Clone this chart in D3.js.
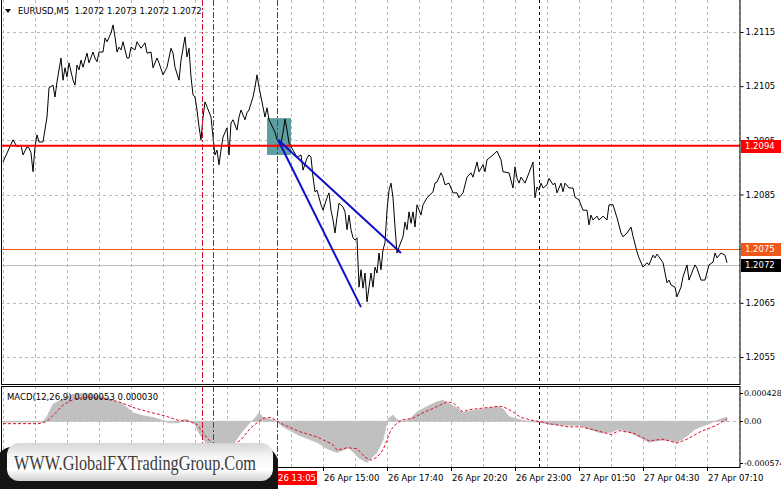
<!DOCTYPE html>
<html><head><meta charset="utf-8">
<script src="https://cdn.jsdelivr.net/npm/d3@7"></script>
<style>body{margin:0;background:#fff;overflow:hidden}svg{display:block;font-family:"DejaVu Sans",Verdana,sans-serif}</style>
</head><body><svg id="c" width="781" height="489"></svg>
<script>
// ---- DATA (bar index = 5-minute bar number) ----
const priceIdx = [0,5,7,9,10,12,13,14,15,16,17,18,20,22,23,25,26,27,29,30,31,32,33,35,36,37,38,39,40,42,43,45,46,47,48,50,51,52,54,55,56,57,58,59,60,62,63,64,66,67,69,71,72,74,75,77,78,80,82,84,85,86,88,89,91,92,93,94,95,96,97,98,99,100,101,102,104,105,106,107,108,109,110,112,113,114,115,117,118,119,121,122,123,125,126,127,128,129,131,132,133,136,137,139,140,141,142,143,145,147,149,150,152,153,154,155,156,157,159,160,162,163,164,165,166,167,168,170,171,172,173,174,175,176,177,178,179,180,181,182,183,184,185,186,187,188,189,190,191,192,193,194,195,196,197,198,200,201,202,203,204,205,206,207,209,210,212,215,216,217,219,220,221,223,225,227,228,230,232,234,235,237,238,240,241,242,245,247,249,250,253,255,256,257,258,259,261,263,265,266,267,268,269,270,272,273,275,276,277,279,280,281,283,285,286,288,290,292,293,294,295,297,298,300,302,303,305,307,309,310,312,314,315,317,318,320,322,323,325,326,327,328,330,332,333,334,336,337,339,340,342,343,345,346,347,349,351,353,355,356,357,359,361,362];
const priceVal = [1.20910,1.20951,1.20938,1.20941,1.20923,1.20938,1.20936,1.20927,1.20892,1.20938,1.20960,1.20947,1.20947,1.20993,1.21047,1.21052,1.21030,1.21058,1.21102,1.21061,1.21084,1.21067,1.21093,1.21061,1.21052,1.21089,1.21080,1.21098,1.21085,1.21111,1.21093,1.21113,1.21102,1.21095,1.21113,1.21113,1.21139,1.21132,1.21148,1.21163,1.21141,1.21113,1.21122,1.21117,1.21132,1.21102,1.21102,1.21122,1.21117,1.21132,1.21120,1.21130,1.21111,1.21113,1.21084,1.21102,1.21093,1.21071,1.21085,1.21120,1.21111,1.21085,1.21061,1.21098,1.21141,1.21104,1.21120,1.21067,1.21034,1.21030,1.21006,1.20975,1.20951,1.20993,1.21021,1.21012,1.20993,1.20956,1.20923,1.20932,1.20905,1.20932,1.20956,1.20973,1.20923,1.20982,1.20988,1.20969,1.20993,1.21006,1.20988,1.21001,1.21006,1.21030,1.21048,1.21071,1.21048,1.21030,1.20993,1.21010,1.20988,1.20965,1.20951,1.20945,1.20964,1.20989,1.20969,1.20945,1.20932,1.20919,1.20923,1.20895,1.20917,1.20923,1.20919,1.20882,1.20855,1.20858,1.20831,1.20821,1.20844,1.20853,1.20821,1.20803,1.20779,1.20808,1.20834,1.20827,1.20818,1.20785,1.20812,1.20785,1.20770,1.20766,1.20770,1.20679,1.20711,1.20677,1.20705,1.20652,1.20679,1.20705,1.20679,1.20716,1.20705,1.20742,1.20711,1.20748,1.20761,1.20821,1.20858,1.20871,1.20844,1.20790,1.20742,1.20753,1.20772,1.20799,1.20785,1.20818,1.20797,1.20818,1.20790,1.20831,1.20812,1.20831,1.20844,1.20855,1.20871,1.20873,1.20890,1.20882,1.20868,1.20871,1.20853,1.20853,1.20844,1.20853,1.20882,1.20890,1.20882,1.20910,1.20892,1.20905,1.20892,1.20914,1.20923,1.20930,1.20914,1.20892,1.20890,1.20862,1.20901,1.20880,1.20871,1.20882,1.20871,1.20890,1.20910,1.20844,1.20864,1.20858,1.20871,1.20862,1.20868,1.20880,1.20868,1.20871,1.20853,1.20871,1.20855,1.20871,1.20862,1.20862,1.20845,1.20840,1.20821,1.20821,1.20794,1.20812,1.20803,1.20810,1.20803,1.20810,1.20803,1.20831,1.20831,1.20807,1.20779,1.20772,1.20779,1.20790,1.20773,1.20744,1.20733,1.20716,1.20724,1.20720,1.20738,1.20733,1.20740,1.20735,1.20724,1.20687,1.20692,1.20683,1.20679,1.20661,1.20679,1.20698,1.20720,1.20692,1.20711,1.20720,1.20714,1.20692,1.20692,1.20720,1.20725,1.20742,1.20733,1.20742,1.20738,1.20724];

const histIdx = [0,20,22,25,30,34,38,46,53,60,65,70,75,80,83,88,91,93,96,98,102,105,110,115,119,123,126,128,130,133,136,138,140,148,157,162,167,173,178,182,187,190,192,193,195,197,200,203,207,212,217,220,223,227,230,233,238,243,247,250,253,257,262,267,270,273,281,289,292,299,304,308,313,318,323,327,332,337,342,346,351,356,360,362];
const histVal = [-0.00001,-0.00001,0.00006,0.00022,0.00029,0.00034,0.00036,0.00034,0.00029,0.00022,0.00011,0.00007,0.00005,0.00001,-0.00002,-0.00002,0.00003,0.00001,-0.00004,-0.00015,-0.00030,-0.00036,-0.00040,-0.00030,-0.00015,-0.00003,0.00004,0.00011,0.00005,0.00003,0.00001,-0.00003,-0.00007,-0.00018,-0.00027,-0.00035,-0.00040,-0.00034,-0.00047,-0.00053,-0.00040,-0.00024,-0.00001,0.00004,0.00008,0.00002,0.00000,0.00002,0.00012,0.00019,0.00025,0.00027,0.00023,0.00017,0.00011,0.00013,0.00015,0.00017,0.00019,0.00016,0.00006,0.00003,0.00000,-0.00001,-0.00002,-0.00004,-0.00005,-0.00005,-0.00009,-0.00015,-0.00014,-0.00010,-0.00014,-0.00020,-0.00027,-0.00025,-0.00024,-0.00027,-0.00019,-0.00010,-0.00005,0.00000,0.00004,0.000053];

const sigIdx = [0,18,22,26,30,36,43,51,58,66,73,81,88,93,97,101,105,111,119,124,130,134,140,148,157,165,167,172,177,181,184,187,190,192,194,197,200,205,210,217,222,225,230,233,240,247,250,255,259,265,270,273,282,289,297,304,308,315,323,330,337,342,349,356,362];
const sigVal = [-0.00003,-0.00003,0.00000,0.00010,0.00021,0.00029,0.00031,0.00029,0.00025,0.00017,0.00012,0.00007,0.00001,0.00000,-0.00004,-0.00018,-0.00030,-0.00036,-0.00024,-0.00008,0.00004,0.00005,-0.00004,-0.00013,-0.00020,-0.00030,-0.00037,-0.00034,-0.00035,-0.00046,-0.00050,-0.00046,-0.00037,-0.00024,-0.00011,-0.00002,0.00002,0.00004,0.00011,0.00019,0.00025,0.00024,0.00012,0.00015,0.00017,0.00019,0.00019,0.00012,0.00005,0.00001,-0.00001,-0.00003,-0.00007,-0.00007,-0.00012,-0.00017,-0.00012,-0.00015,-0.00025,-0.00023,-0.00028,-0.00023,-0.00013,-0.00006,0.00003];

const priceTicks = [1.2115,1.2105,1.2095,1.2085,1.2075,1.2065,1.2055];
const timeTickIdx = [160,192,224,256,288,320,352];
const timeTickLabels = ["26 Apr 15:00","26 Apr 17:40","26 Apr 20:20","26 Apr 23:00","27 Apr 01:50","27 Apr 04:30","27 Apr 07:10"];
const markerIdx = 137, markerLabel = "26 13:05";
const eventLineIdx = [99.5,105,137];
const daySepIdx = [268];
const levelRed = 1.2094, levelOrange = 1.2075, levelBid = 1.2072;
const trendStart = [137.5,1.20951];
const trendEnds = [[179,1.20642],[199,1.20742]];
const boxIdx = [132,144], boxPrice = [1.20991,1.20923];
const macdTop = 0.000428, macdBottom = -0.000574;
const macdTickLabels = ["0.000428","0.00","-0.000574"];
const title = "EURUSD,M5  1.2072 1.2073 1.2072 1.2072";
const macdTitle = "MACD(12,26,9) 0.000053 0.000030";
const watermark = "WWW.GlobalFXTradingGroup.Com";

// ---- SCALES ----
const svg = d3.select("#c");
const R = 740;
const x = d3.scaleLinear().domain([0,368.5]).range([3,R]);
const y = d3.scaleLinear().domain([1.2055,1.2115]).range([357,32]);
const ym = d3.scaleLinear().domain([macdBottom,macdTop]).range([466,388]);
const MAIN=[0,384], SUB=[386,467];

const defs = svg.append("defs");
defs.append("clipPath").attr("id","cm").append("rect").attr("x",1).attr("y",MAIN[0]).attr("width",R-1).attr("height",MAIN[1]-MAIN[0]);
defs.append("clipPath").attr("id","cs").append("rect").attr("x",1).attr("y",SUB[0]).attr("width",R-1).attr("height",SUB[1]-SUB[0]);
const gr = defs.append("linearGradient").attr("id","wm").attr("x1",0).attr("y1",0).attr("x2",0).attr("y2",1);
[[0,"#d6d6d6"],[0.35,"#f5f5f5"],[0.7,"#ffffff"],[1,"#cfcfcf"]].forEach(s=>gr.append("stop").attr("offset",s[0]).attr("stop-color",s[1]));

const gM = svg.append("g").attr("clip-path","url(#cm)");
const gS = svg.append("g").attr("clip-path","url(#cs)");
const gridIdx = d3.range(0,369,16);
const gridCol = "#b8b8b8";

// grid main
gM.selectAll(".vg").data(gridIdx).join("line").attr("x1",d=>Math.round(x(d))+0.5).attr("x2",d=>Math.round(x(d))+0.5)
  .attr("y1",MAIN[0]).attr("y2",MAIN[1]).attr("stroke",gridCol).attr("stroke-dasharray","3,3");
gM.selectAll(".hg").data(priceTicks).join("line").attr("x1",1).attr("x2",R).attr("y1",d=>Math.round(y(d))+0.5).attr("y2",d=>Math.round(y(d))+0.5)
  .attr("stroke",gridCol).attr("stroke-dasharray","3,3");
// grid sub
gS.selectAll(".vg").data(gridIdx).join("line").attr("x1",d=>Math.round(x(d))+0.5).attr("x2",d=>Math.round(x(d))+0.5)
  .attr("y1",SUB[0]).attr("y2",SUB[1]).attr("stroke",gridCol).attr("stroke-dasharray","3,3");

// teal box
gM.append("rect").attr("x",x(boxIdx[0])).attr("width",x(boxIdx[1])-x(boxIdx[0]))
  .attr("y",y(boxPrice[0])).attr("height",y(boxPrice[1])-y(boxPrice[0])).attr("fill","#5f9ea0");

// level lines
gM.append("line").attr("x1",1).attr("x2",R).attr("y1",Math.round(y(levelBid))+0.5).attr("y2",Math.round(y(levelBid))+0.5).attr("stroke","#c0c0c0");
gM.append("line").attr("x1",1).attr("x2",R).attr("y1",Math.round(y(levelOrange))+0.5).attr("y2",Math.round(y(levelOrange))+0.5).attr("stroke","#f0581a");

// price line
const pts = priceIdx.map((d,i)=>[d,priceVal[i]]);
gM.append("path").datum(pts).attr("fill","none").attr("stroke","#000").attr("stroke-width",1)
  .attr("d",d3.line().x(d=>x(d[0])).y(d=>y(d[1])));

gM.append("line").attr("x1",1).attr("x2",R).attr("y1",y(levelRed)).attr("y2",y(levelRed)).attr("stroke","#ff0000").attr("stroke-width",2);

// trend lines
trendEnds.forEach(e=>{
  gM.append("line").attr("x1",x(trendStart[0])).attr("y1",y(trendStart[1])).attr("x2",x(e[0])).attr("y2",y(e[1]))
    .attr("stroke","#1010c8").attr("stroke-width",2);
});

// MACD zero line, histogram, signal
gS.append("line").attr("x1",1).attr("x2",R).attr("y1",Math.round(ym(0))+0.5).attr("y2",Math.round(ym(0))+0.5).attr("stroke",gridCol).attr("stroke-dasharray","3,3");
const hp = histIdx.map((d,i)=>[d,histVal[i]]);
gS.append("path").datum(hp).attr("fill","#c0c0c0").attr("stroke","#c0c0c0").attr("stroke-width",0.8)
  .attr("d",d3.area().x(d=>x(d[0])).y0(ym(0)).y1(d=>ym(d[1])));
const sp = sigIdx.map((d,i)=>[d,sigVal[i]]);
gS.append("path").datum(sp).attr("fill","none").attr("stroke","#e0102a").attr("stroke-width",1).attr("stroke-dasharray","3,2")
  .attr("d",d3.line().x(d=>x(d[0])).y(d=>ym(d[1])));

// vertical event lines
[gM,gS].forEach((g,k)=>{
  const rng = k===0?MAIN:SUB;
  g.selectAll(".ev").data(eventLineIdx).join("line").attr("x1",d=>Math.round(x(d))+0.5).attr("x2",d=>Math.round(x(d))+0.5)
    .attr("y1",rng[0]).attr("y2",rng[1]).attr("stroke","#d0102a").attr("stroke-dasharray","6,2,2,2");
  g.selectAll(".ds").data(daySepIdx).join("line").attr("x1",d=>Math.round(x(d))+0.5).attr("x2",d=>Math.round(x(d))+0.5)
    .attr("y1",rng[0]).attr("y2",rng[1]).attr("stroke","#000").attr("stroke-dasharray","3,3");
});

// frames
svg.append("rect").attr("x",1.5).attr("y",-1).attr("width",R-1.5).attr("height",MAIN[1]+1.5).attr("fill","none").attr("stroke","#000");
svg.append("rect").attr("x",1.5).attr("y",SUB[0]+0.5).attr("width",R-1.5).attr("height",SUB[1]-SUB[0]).attr("fill","none").attr("stroke","#000");

// right axis main
const fs = 8.5;
const ax = svg.append("g").attr("transform",`translate(${R+0.5},0)`)
  .call(d3.axisRight(y).tickValues(priceTicks).tickSize(3).tickPadding(2).tickFormat(d3.format(".4f")));
ax.select(".domain").remove();
ax.selectAll("text").attr("font-size",fs).attr("font-family","DejaVu Sans").attr("fill","#000");
ax.selectAll("line").attr("stroke","#000");

// level labels
function tag(v,bg){
  const yy = Math.round(y(v));
  svg.append("rect").attr("x",R+1).attr("y",yy-6).attr("width",41).attr("height",13).attr("fill",bg);
  svg.append("text").attr("x",R+5).attr("y",yy).attr("dy","0.35em").attr("font-size",fs).attr("fill","#fff").text(d3.format(".4f")(v));
}
tag(levelRed,"#ff0000"); tag(levelOrange,"#f0581a"); tag(levelBid,"#000");

// MACD axis
const mvals = [macdTop,0,macdBottom];
const moff = [5,0,-3];
svg.selectAll(".mt").data(mvals).join("line").attr("x1",R).attr("x2",R+3)
  .attr("y1",(d,i)=>Math.round(ym(d)+moff[i])+0.5).attr("y2",(d,i)=>Math.round(ym(d)+moff[i])+0.5).attr("stroke","#000");
svg.selectAll(".ml").data(mvals).join("text").attr("x",R+4).attr("y",(d,i)=>ym(d)+moff[i]).attr("dy","0.35em")
  .attr("font-size",7.9).attr("fill","#000").text((d,i)=>macdTickLabels[i]);

// bottom axis
svg.selectAll(".xt").data(timeTickIdx).join("line").attr("x1",d=>Math.round(x(d))+0.5).attr("x2",d=>Math.round(x(d))+0.5)
  .attr("y1",SUB[1]).attr("y2",SUB[1]+4).attr("stroke","#000");
svg.selectAll(".xl").data(timeTickIdx).join("text").attr("x",d=>x(d)+1).attr("y",478).attr("dy","0.35em")
  .attr("font-size",fs).attr("fill","#000").text((d,i)=>timeTickLabels[i]);
svg.append("rect").attr("x",x(markerIdx)-1).attr("y",471).attr("width",41).attr("height",14).attr("fill","#ff0000");
svg.append("text").attr("x",x(markerIdx)+1).attr("y",478).attr("dy","0.35em").attr("font-size",fs).attr("fill","#fff").text(markerLabel);

// titles
svg.append("path").attr("d","M5,9 L11,9 L8,13 Z").attr("fill","#000");
svg.append("text").attr("x",18).attr("y",11).attr("dy","0.35em").attr("font-size",fs).attr("fill","#000").style("white-space","pre").text(title);
svg.append("text").attr("x",7).attr("y",397).attr("dy","0.35em").attr("font-size",fs).attr("fill","#000").text(macdTitle);

// watermark
svg.append("rect").attr("x",-4).attr("y",447).attr("width",282).attr("height",60).attr("rx",16).attr("fill","#141414");
svg.append("rect").attr("x",7).attr("y",443).attr("width",266).attr("height",38).attr("rx",12).attr("fill","url(#wm)");
svg.append("text").attr("x",14).attr("y",470).attr("font-family","'Liberation Serif','Times New Roman',serif").attr("font-size",21)
  .attr("fill","#3c3c3c").attr("textLength",242).attr("lengthAdjust","spacingAndGlyphs").text(watermark);
</script></body></html>
